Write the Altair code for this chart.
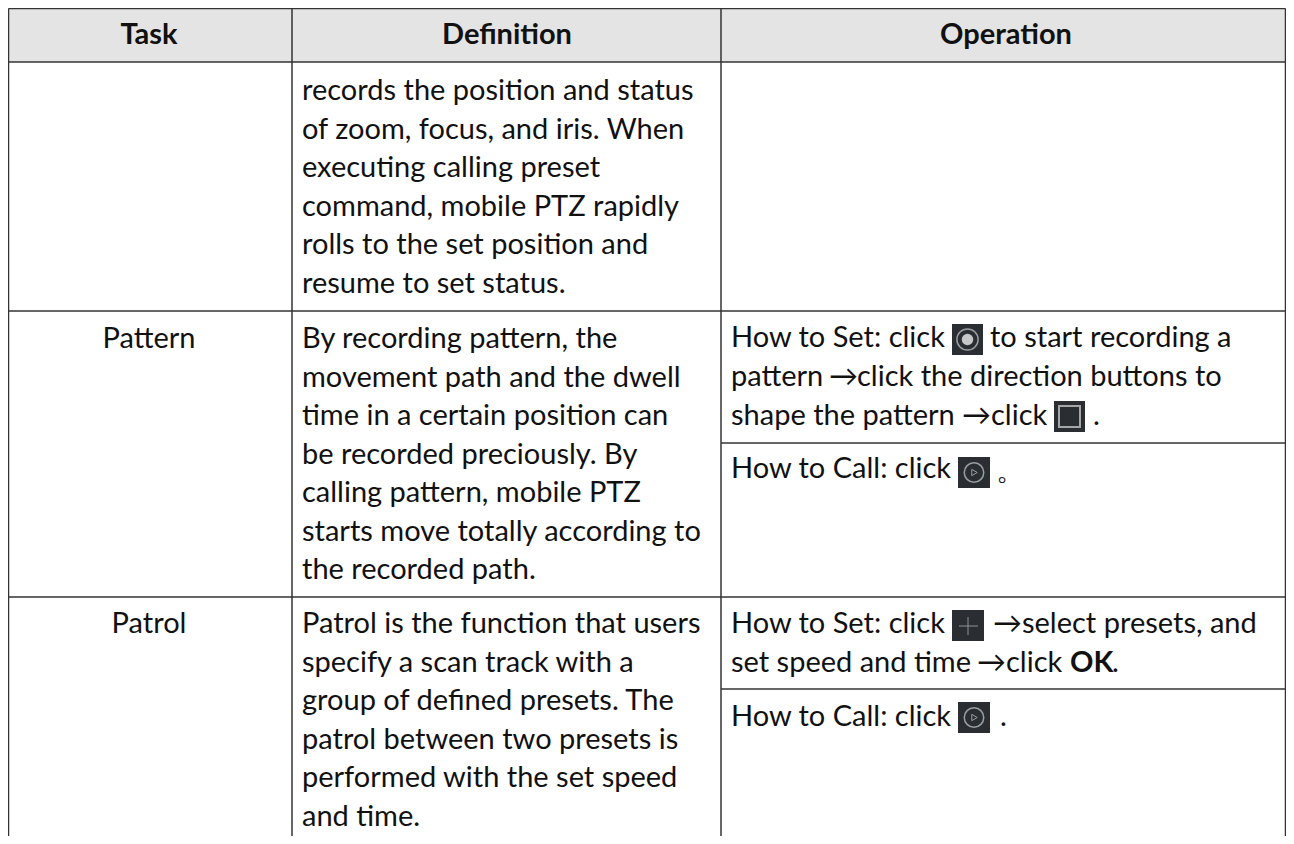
import altair as alt
import pandas as pd

FONT = "Lato"
SIZE = 29
LINE = "#333333"
INK = "#111111"

# --- content ---
headers = ["Task", "Definition", "Operation"]
tasks = ["Pattern", "Patrol"]
def_first = ["records the position and status", "of zoom, focus, and iris. When", "executing calling preset",
             "command, mobile PTZ rapidly", "rolls to the set position and", "resume to set status."]
def_pattern = ["By recording pattern, the", "movement path and the dwell", "time in a certain position can",
               "be recorded preciously. By", "calling pattern, mobile PTZ", "starts move totally according to",
               "the recorded path."]
def_patrol = ["Patrol is the function that users", "specify a scan track with a", "group of defined presets. The",
              "patrol between two presets is", "performed with the set speed", "and time."]
op_pieces = ["How to Set: click", "to start recording a", "pattern", "→", "click the direction buttons to",
             "shape the pattern", "→", "click", ".", "How to Call: click", "。", "How to Set: click", "→select presets, and",
             "set speed and time", "→", "click", "OK", ".", "How to Call: click", "."]

# --- page layout (pixel grid of the page) ---
LEFT, C1, C2, RIGHT = 8.5, 292, 721, 1285.5
TOP, H, R1, R2, BOTTOM = 8.5, 62, 311, 597, 836
PITCH = 38.5
DX = 302
OX = 731
op_x = [OX, 990, OX, 829, 857, OX, 962, 991, 1093, OX, 996, OX, 993, OX, 977, 1006, 1070, 1112, OX, 1000]
op_y = [338, 338, 377, 377, 377, 416, 416, 416, 416, 469, 471, 624, 624, 663, 663, 663, 663, 663, 717, 717]
op_w = ["normal"] * 20
op_w[16] = "bold"

x = alt.X("x:Q", scale=alt.Scale(domain=[8, 1286], nice=False, zero=False), axis=None)
y = alt.Y("y:Q", scale=alt.Scale(domain=[8, 836], reverse=True, nice=False, zero=False), axis=None)
x2 = alt.X2("x2:Q")
y2 = alt.Y2("y2:Q")

def text_rows():
    rows = []
    for t, cx in zip(headers, [149, 507, 1006]):
        rows.append(dict(x=cx, y=35, t=t, a="center", w="bold"))
    for t, yy in zip(tasks, [339, 624]):
        rows.append(dict(x=149, y=yy, t=t, a="center", w="normal"))
    for lines, y0 in [(def_first, 91), (def_pattern, 339), (def_patrol, 624)]:
        for i, t in enumerate(lines):
            rows.append(dict(x=DX, y=y0 + i * PITCH, t=t, a="left", w="normal"))
    for t, xx, yy, w in zip(op_pieces, op_x, op_y, op_w):
        rows.append(dict(x=xx, y=yy, t=t, a="left", w=w))
    return pd.DataFrame(rows)

txt = text_rows()
def tx(a, w):
    return alt.Chart(txt[(txt.a == a) & (txt.w == w)]).mark_text(
        font=FONT, fontSize=SIZE, fontWeight=w, align=a, baseline="middle", color=INK
    ).encode(x=x, y=y, text="t:N")

header_bg = alt.Chart(pd.DataFrame([dict(x=LEFT, x2=RIGHT, y=TOP, y2=H)])).mark_rect(color="#e4e4e4").encode(x=x, x2=x2, y=y, y2=y2)

h_lines = pd.DataFrame(
    [dict(x=LEFT, x2=RIGHT, y=v, y2=v) for v in [TOP, H, R1, R2]] +
    [dict(x=C2, x2=RIGHT, y=v, y2=v) for v in [443, 689]]
)
v_lines = pd.DataFrame([dict(x=v, x2=v, y=TOP, y2=BOTTOM) for v in [LEFT, C1, C2, RIGHT]])
rules = alt.layer(
    alt.Chart(h_lines).mark_rule(color=LINE, strokeWidth=1.5).encode(x=x, x2=x2, y=y),
    alt.Chart(v_lines).mark_rule(color=LINE, strokeWidth=1.5).encode(x=x, y=y, y2=y2),
)

# icons
icons = pd.DataFrame([
    dict(x=952, x2=983, y=324, y2=355),
    dict(x=1054, x2=1085, y=401, y2=432),
    dict(x=958, x2=990, y=457, y2=488),
    dict(x=952, x2=984, y=610, y2=641),
    dict(x=958, x2=990, y=702, y2=733),
])
icon_bg = alt.Chart(icons).mark_rect(color="#2a2e33").encode(x=x, x2=x2, y=y, y2=y2)
rings = alt.Chart(pd.DataFrame([dict(x=967.5, y=339.5, s=450), dict(x=974, y=472.5, s=380), dict(x=974, y=717.5, s=380)])).mark_point(
    shape="circle", filled=False, color="#9a9ea2", strokeWidth=1.5, opacity=1).encode(x=x, y=y, size=alt.Size("s:Q", scale=None, legend=None))
dot = alt.Chart(pd.DataFrame([dict(x=967.5, y=339.5)])).mark_point(
    shape="circle", size=130, filled=True, color="#c4c6c8", opacity=1).encode(x=x, y=y)
square = alt.Chart(pd.DataFrame([dict(x=1069.5, y=416.5)])).mark_point(
    shape="square", size=441, filled=False, color="#a4a6a8", strokeWidth=2, opacity=1).encode(x=x, y=y)
tri = alt.Chart(pd.DataFrame([dict(x=974.5, y=472.5), dict(x=974.5, y=717.5)])).mark_point(
    shape="triangle-right", size=40, filled=False, color="#9a9ea2", strokeWidth=1, opacity=1).encode(x=x, y=y)
plus = alt.Chart(pd.DataFrame([dict(x=959, x2=978, y=626, y2=626)])).mark_rule(color="#8f9296", strokeWidth=1).encode(x=x, x2=x2, y=y)
plus_v = alt.Chart(pd.DataFrame([dict(x=968, y=617, y2=635)])).mark_rule(color="#8f9296", strokeWidth=1).encode(x=x, y=y, y2=y2)

chart = alt.layer(
    header_bg, rules,
    tx("center", "bold"), tx("center", "normal"), tx("left", "normal"), tx("left", "bold"),
    icon_bg, rings, dot, square, tri, plus, plus_v,
).properties(width=1278, height=828, padding=0, autosize=alt.AutoSizeParams(type="none"), background="white"
).configure_view(stroke=None)

chart.save("out.html", embed_options={"renderer": "svg", "actions": False})
